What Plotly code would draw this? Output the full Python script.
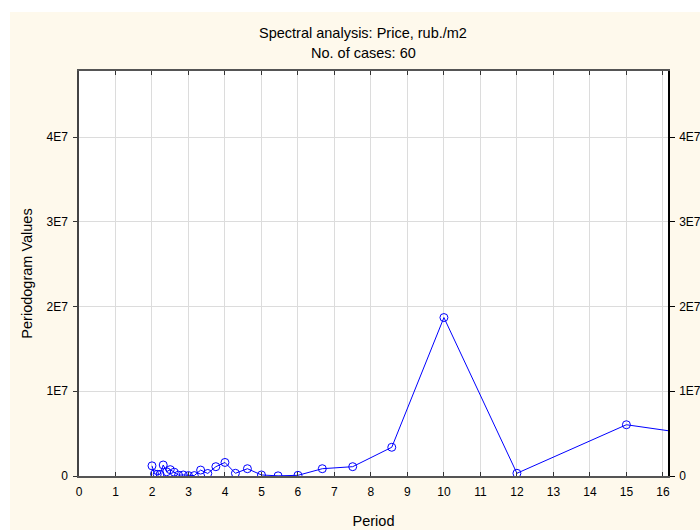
import plotly.graph_objects as go

# Periods (60 / k) and periodogram values
periods = [2.0, 2.069, 2.143, 2.222, 2.308, 2.4, 2.5, 2.609, 2.727, 2.857,
           3.0, 3.158, 3.333, 3.529, 3.75, 4.0, 4.286, 4.615, 5.0, 5.455,
           6.0, 6.667, 7.5, 8.571, 10.0, 12.0, 15.0, 20.0]
values = [1.2e6, 0.25e6, 0.2e6, 0.2e6, 1.3e6, 0.5e6, 0.75e6, 0.45e6, 0.1e6, 0.12e6,
          0.05e6, 0.05e6, 0.7e6, 0.3e6, 1.1e6, 1.6e6, 0.32e6, 0.86e6, 0.12e6, 0.02e6,
          0.08e6, 0.86e6, 1.1e6, 3.39e6, 18.7e6, 0.32e6, 6.05e6, 2.97e6]

x_ticks = list(range(0, 17))
y_ticks = [0, 1e7, 2e7, 3e7, 4e7]
y_tick_labels = ["0", "1E7", "2E7", "3E7", "4E7"]

CREAM = "#FEF9EC"
FONT = "Liberation Sans, Arial, sans-serif"

fig = go.Figure()
fig.add_trace(go.Scatter(
    x=periods, y=values, mode="lines+markers",
    line=dict(color="#0000FF", width=1),
    marker=dict(symbol="circle-open", size=8, color="#0000FF", line=dict(width=1)),
    showlegend=False, hoverinfo="skip",
))
fig.add_trace(go.Scatter(x=[0], y=[0], yaxis="y2", mode="markers",
                         marker=dict(opacity=0), showlegend=False, hoverinfo="skip"))

Y_MAX = 4.78e7
X_MAX = 16.14

fig.update_layout(
    width=700, height=530,
    margin=dict(l=79, r=32, t=71, b=54),
    paper_bgcolor=CREAM, plot_bgcolor="white",
    font=dict(family=FONT, size=12, color="black"),
    xaxis=dict(range=[0, X_MAX], tickvals=x_ticks, ticks="inside", ticklen=4,
               tickcolor="#333", showgrid=True, gridcolor="#DCDCDC", gridwidth=1,
               showline=True, linecolor="#555", linewidth=2, mirror="ticks",
               zeroline=False, ticklabelstandoff=4, automargin=False,
               title=dict(text="Period", standoff=17, font=dict(size=14.5)),
               tickfont=dict(size=12)),
    yaxis=dict(range=[0, Y_MAX], tickvals=y_ticks, ticktext=y_tick_labels,
               ticks="outside", ticklen=4, tickcolor="#333",
               showgrid=True, gridcolor="#DCDCDC", gridwidth=1,
               showline=True, linecolor="#444", linewidth=1.5, mirror="ticks",
               zeroline=False, ticklabelstandoff=3, automargin=False,
               title=dict(text="Periodogram Values", standoff=10, font=dict(size=14.5))),
    yaxis2=dict(range=[0, Y_MAX], tickvals=y_ticks, ticktext=y_tick_labels,
                overlaying="y", side="right", ticks="outside", ticklen=5,
                tickcolor="black", showgrid=False, ticklabelstandoff=2,
                showline=True, linecolor="black", linewidth=1.5, zeroline=False,
                automargin=False),
    shapes=[
        dict(type="rect", xref="paper", yref="paper", x0=-0.2, x1=1.2,
             y0=(476 - 12) / 405, y1=1.3, fillcolor="white", line=dict(width=0),
             layer="below"),
        dict(type="rect", xref="paper", yref="paper", x0=-0.2, x1=(10 - 79) / 589,
             y0=-0.2, y1=1.3, fillcolor="white", line=dict(width=0), layer="below"),
    ],
    annotations=[
        dict(text="Spectral analysis: Price, rub./m2", xref="paper", yref="paper",
             x=(363 - 79) / 589, y=(476 - 32.5) / 405, showarrow=False,
             xanchor="center", yanchor="middle", font=dict(size=14.5)),
        dict(text="No. of cases: 60", xref="paper", yref="paper",
             x=(363 - 79) / 589, y=(476 - 53) / 405, showarrow=False,
             xanchor="center", yanchor="middle", font=dict(size=14.5)),
    ],
)

fig.write_html("out.html")
